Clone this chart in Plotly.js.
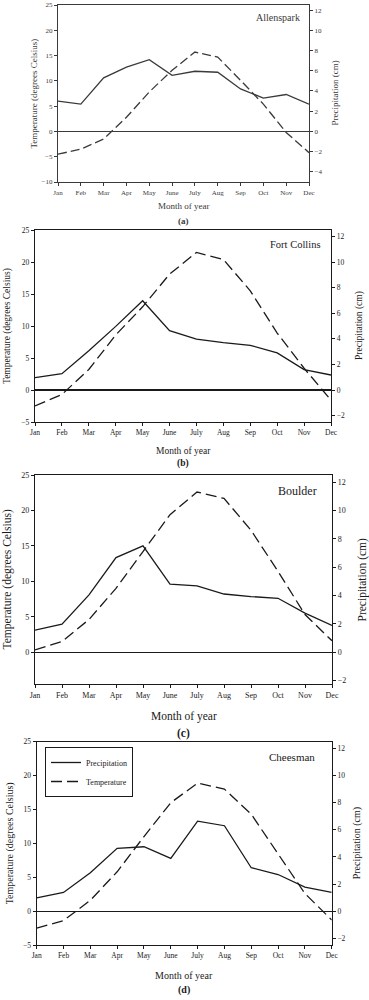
<!DOCTYPE html>
<html>
<head>
<meta charset="utf-8">
<script src="https://cdn.plot.ly/plotly-3.0.1.min.js"></script>
<style>html,body{margin:0;padding:0;background:#fff;}#chart{width:369px;height:1000px;}</style>
</head>
<body>
<div id="chart"></div>
<script>
var months = ["Jan","Feb","Mar","Apr","May","June","July","Aug","Sep","Oct","Nov","Dec"];
var stations = ["Allenspark","Fort Collins","Boulder","Cheesman"];
var panelLabels = ["(a)","(b)","(c)","(d)"];

// Temperature (degrees Celsius), left axis
var tempAllenspark   = [-4.5,-3.5,-1.5,2.8,7.8,12.1,15.7,14.7,10.1,5.4,-0.2,-4.2];
var tempFortCollins  = [-2.5,-0.7,3.2,8.6,13.0,18.1,21.5,20.4,15.5,8.9,3.4,-1.6];
var tempBoulder      = [0.3,1.5,4.6,9.0,14.2,19.4,22.6,21.7,17.2,11.4,5.3,1.6];
var tempCheesman     = [-2.5,-1.4,1.6,5.8,11.0,16.0,18.9,18.0,14.3,8.5,2.6,-1.3];

// Precipitation (cm), right axis
var precAllenspark   = [3.0,2.7,5.3,6.35,7.1,5.55,5.95,5.85,4.2,3.3,3.65,2.7];
var precFortCollins  = [0.96,1.27,3.07,4.97,6.97,4.63,3.98,3.7,3.49,2.9,1.59,1.17];
var precBoulder      = [1.55,1.97,4.04,6.67,7.5,4.8,4.68,4.1,3.92,3.8,2.75,1.88];
var precCheesman     = [0.98,1.38,2.83,4.63,4.75,3.89,6.64,6.3,3.2,2.7,1.77,1.38];

var temps = [tempAllenspark,tempFortCollins,tempBoulder,tempCheesman];
var precs = [precAllenspark,precFortCollins,precBoulder,precCheesman];

var W = 369, H = 1000;
var serif = "Liberation Serif, Times New Roman, serif";
// layout geometry (pixels)
var P = [
  {x0:58, x1:309, y0:5,   y1:182, lr:[-10,25], lt:[-10,-5,0,5,10,15,20,25], rr:[-5,12.5], rt:[-4,-2,0,2,4,6,8,10,12],
   col:"#3a3a3a", fs:7, tfs:9, sfs:10, lx:33, rx:334, my:206, py:221, sx:278, sy:17, dash:"9px,4px"},
  {x0:35, x1:331, y0:230, y1:422, lr:[-5,25], lt:[-5,0,5,10,15,20,25], rr:[-2.5,12.5], rt:[-2,0,2,4,6,8,10,12],
   col:"#1a1a1a", fs:7.5, tfs:9.5, sfs:10.5, lx:7, rx:359, my:451, py:464, sx:295, sy:244, dash:"11px,5px"},
  {x0:35, x1:332, y0:475, y1:684, lr:[-4.5,25], lt:[0,5,10,15,20,25], rr:[-2.25,12.5], rt:[-2,0,2,4,6,8,10,12],
   col:"#1a1a1a", fs:8, tfs:11.5, sfs:12, lx:7, rx:362, my:716, py:733, sx:297, sy:491, dash:"11px,5px"},
  {x0:36.7, x1:331.7, y0:741.7, y1:945, lr:[-5,25], lt:[-5,0,5,10,15,20,25], rr:[-2.5,12.5], rt:[-2,0,2,4,6,8,10,12],
   col:"#1a1a1a", fs:7.5, tfs:10, sfs:11, lx:10, rx:357, my:975, py:990, sx:292, sy:757, dash:"11px,5px"}
];

var data = [];
var layout = {
  width: W, height: H,
  margin: {l:0, r:0, t:0, b:0},
  paper_bgcolor: "#fff", plot_bgcolor: "#fff",
  font: {family: serif, color: "#1a1a1a"},
  annotations: [],
  showlegend: true,
  legend: {
    x: 45/W, y: 1 - 747/H, xanchor: "left", yanchor: "top",
    bordercolor: "#1a1a1a", borderwidth: 1, bgcolor: "#fff",
    font: {family: serif, size: 8, color: "#1a1a1a"},
    tracegroupgap: 0, itemwidth: 30
  }
};

for (var i = 0; i < 4; i++) {
  var p = P[i];
  var xn = i + 1;
  var yl = 2*i + 1, yr = 2*i + 2;
  var xk = xn === 1 ? "x" : "x" + xn;
  var ylk = yl === 1 ? "y" : "y" + yl;
  var yrk = "y" + yr;
  var xd = [p.x0/W, p.x1/W];
  var yd = [1 - p.y1/H, 1 - p.y0/H];
  var last = (i === 3);

  data.push({
    x: months, y: precs[i], type: "scatter", mode: "lines",
    name: "Precipitation", xaxis: xk, yaxis: yrk,
    line: {color: p.col, width: 1.3}, showlegend: last, legendrank: 1
  });
  data.push({
    x: months, y: temps[i], type: "scatter", mode: "lines",
    name: "Temperature", xaxis: xk, yaxis: ylk,
    line: {color: p.col, width: 1.3, dash: p.dash}, showlegend: last, legendrank: 2
  });

  layout["xaxis" + (xn === 1 ? "" : xn)] = {
    domain: xd, anchor: ylk, type: "category", range: [0, 11],
    showline: true, linecolor: p.col, linewidth: 1.2, mirror: true,
    ticks: "outside", ticklen: 3, tickcolor: p.col,
    showgrid: false, zeroline: false,
    tickfont: {family: serif, size: p.fs, color: p.col}, fixedrange: true
  };
  layout["yaxis" + (yl === 1 ? "" : yl)] = {
    domain: yd, anchor: xk, range: p.lr, tickvals: p.lt,
    showline: true, linecolor: p.col, linewidth: 1.2,
    ticks: "outside", ticklen: 3, tickcolor: p.col,
    showgrid: false, zeroline: true, zerolinecolor: p.col, zerolinewidth: 1.2,
    tickfont: {family: serif, size: p.fs, color: p.col}, fixedrange: true
  };
  layout["yaxis" + yr] = {
    overlaying: ylk, side: "right", anchor: xk, range: p.rr, tickvals: p.rt,
    showline: true, linecolor: p.col, linewidth: 1.2,
    ticks: "outside", ticklen: 3, tickcolor: p.col,
    showgrid: false, zeroline: false,
    tickfont: {family: serif, size: p.fs, color: p.col}, fixedrange: true
  };

  var xc = (p.x0 + p.x1) / 2 / W;
  var yc = 1 - (p.y0 + p.y1) / 2 / H;
  layout.annotations.push(
    {xref:"paper", yref:"paper", x: p.lx/W, y: yc, text: "Temperature (degrees Celsius)", textangle: -90,
     showarrow:false, xanchor:"center", yanchor:"middle", font:{family:serif, size:p.tfs, color:p.col}},
    {xref:"paper", yref:"paper", x: p.rx/W, y: yc, text: "Precipitation (cm)", textangle: -90,
     showarrow:false, xanchor:"center", yanchor:"middle", font:{family:serif, size:p.tfs, color:p.col}},
    {xref:"paper", yref:"paper", x: xc, y: 1 - p.my/H, text: "Month of year",
     showarrow:false, xanchor:"center", yanchor:"middle", font:{family:serif, size:p.tfs, color:p.col}},
    {xref:"paper", yref:"paper", x: xc, y: 1 - p.py/H, text: "<b>" + panelLabels[i] + "</b>",
     showarrow:false, xanchor:"center", yanchor:"middle", font:{family:serif, size:p.tfs, color:p.col}},
    {xref:"paper", yref:"paper", x: p.sx/W, y: 1 - p.sy/H, text: stations[i],
     showarrow:false, xanchor:"center", yanchor:"middle", font:{family:serif, size:p.sfs, color:p.col}}
  );
}

Plotly.newPlot("chart", data, layout, {staticPlot: true, displayModeBar: false});
</script>
</body>
</html>
